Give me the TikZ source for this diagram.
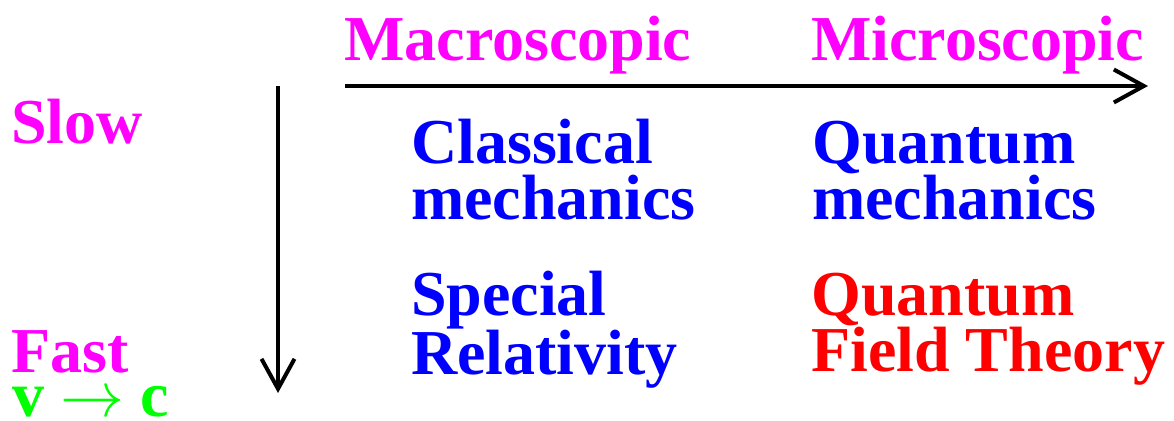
\documentclass[tikz,border=0pt]{standalone}
\usepackage{fix-cm}
\usepackage{fontspec}
\setmainfont{Liberation Serif}
\usetikzlibrary{arrows.meta}
\definecolor{magentapure}{RGB}{255,0,255}
\definecolor{bluepure}{RGB}{0,0,255}
\definecolor{redpure}{RGB}{255,0,0}
\definecolor{greenpure}{RGB}{0,255,0}
\newcommand\mytwolines[2]{\vtop{\baselineskip=56pt\hbox{#1}\hbox{#2}}}
\tikzset{
  lbl/.style={anchor=base west, inner sep=0pt, font=\fontsize{64}{56}\selectfont\bfseries},
  head/.style={lbl, text=magentapure},
  classic/.style={lbl, text=bluepure},
  qft/.style={lbl, text=redpure},
  limit/.style={lbl, text=greenpure},
  axis/.style={line width=4pt, -{Straight Barb[length=30pt,width=33pt]}}
}
\begin{document}
\begin{tikzpicture}[x=1pt,y=-1pt]
\useasboundingbox (0,0) rectangle (1174,420);
\node[head] (macro) at (344,60) {Macroscopic};
\node[head] (micro) at (811,60) {Microscopic};
\node[head] (slow) at (11,143) {Slow};
\node[head] (fast) at (11,372) {Fast};
\node[limit] (vc) at (12,416) {v $\rightarrow$ c};
\node[classic] (cm) at (411,163) {\mytwolines{Classical}{mechanics}};
\node[classic] (qm) at (812,163) {\mytwolines{Quantum}{mechanics}};
\node[classic] (sr) at (411,315) {\mytwolines{Special}{Relativity}};
\node[qft] (qf) at (811,315) {\mytwolines{Quantum}{Field Theory}};
\coordinate (hs) at (345,86);
\coordinate (he) at (1148,86);
\coordinate (vs) at (278,86);
\coordinate (ve) at (278,393);
\draw[axis] (hs) -- (he);
\draw[axis] (vs) -- (ve);
\end{tikzpicture}
\end{document}
